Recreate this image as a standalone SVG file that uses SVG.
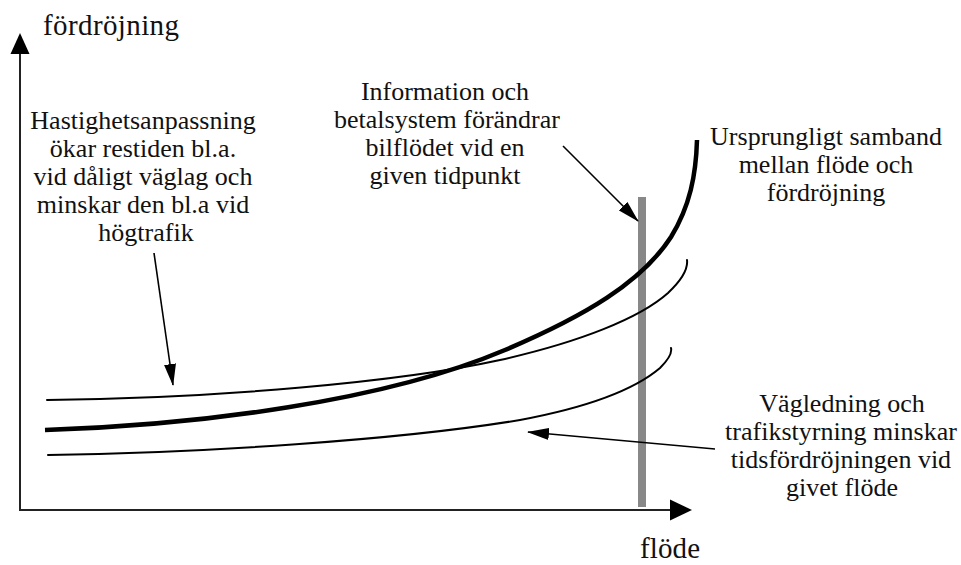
<svg xmlns="http://www.w3.org/2000/svg" width="961" height="565" viewBox="0 0 961 565">
  <defs>
    <style>
      .t { font-family: "Liberation Serif", "Times New Roman", serif; font-size: 26px; fill: #111; text-anchor: middle; }
      .ax { font-family: "Liberation Serif", "Times New Roman", serif; font-size: 29px; fill: #111; }
      .axis { stroke: #222; stroke-width: 2; fill: none; }
      .head { fill: #000; stroke: none; }
      .thin { stroke: #000; stroke-width: 2; fill: none; stroke-linecap: round; }
      .thick { stroke: #000; stroke-width: 4.5; fill: none; }
      .conn { stroke: #000; stroke-width: 1.6; fill: none; }
    </style>
    <marker id="arr" markerUnits="userSpaceOnUse" markerWidth="22" markerHeight="12" refX="21" refY="6" orient="auto">
      <path d="M0,0 L22,6 L0,12 Z" fill="#000"/>
    </marker>
  </defs>
  <rect width="961" height="565" fill="#fff"/>

  <g id="axes">
    <line class="axis" x1="20" y1="510" x2="20" y2="50"/>
    <line class="axis" x1="19" y1="510" x2="674" y2="510"/>
    <polygon class="head" points="20,33 29.5,54 10.5,54"/>
    <polygon class="head" points="692,510 670,499.5 670,520.5"/>
    <text class="ax" x="43" y="35" textLength="136" lengthAdjust="spacing">fördröjning</text>
    <text class="ax" x="640" y="558" textLength="60" lengthAdjust="spacing">flöde</text>
  </g>

  <g id="bar">
    <rect x="638" y="197" width="8" height="310" fill="#888"/>
  </g>

  <g id="curve-original">
    <path class="thick" d="M45,430 C200,425 385,401 505,350 C585,316 642,282 671,237 C690,206 696,175 697,140"/>
  </g>
  <g id="curve-speed">
    <path class="thin" d="M47,400 C220,398 400,382 500,360 C580,342 640,318 668,293 C684,278 688,268 687,260"/>
  </g>
  <g id="curve-guidance">
    <path class="thin" d="M48,455 C200,453 400,440 520,420 C600,405 640,385 660,368 C670,358 672,352 671,348"/>
  </g>

  <g id="connectors">
    <line class="conn" x1="154" y1="253" x2="173" y2="385" marker-end="url(#arr)"/>
    <line class="conn" x1="563" y1="146" x2="638" y2="221" marker-end="url(#arr)"/>
    <line class="conn" x1="715" y1="449" x2="528" y2="432" marker-end="url(#arr)"/>
  </g>

  <g id="label-speed">
    <text class="t" x="143" y="129">Hastighetsanpassning</text>
    <text class="t" x="143" y="157">ökar restiden bl.a.</text>
    <text class="t" x="143" y="185">vid dåligt väglag och</text>
    <text class="t" x="143" y="213">minskar den bl.a vid</text>
    <text class="t" x="146" y="241">högtrafik</text>
  </g>

  <g id="label-info">
    <text class="t" x="445" y="100">Information och</text>
    <text class="t" x="447" y="128">betalsystem förändrar</text>
    <text class="t" x="445" y="156">bilflödet vid en</text>
    <text class="t" x="445" y="184">given tidpunkt</text>
  </g>

  <g id="label-original">
    <text class="t" x="826" y="145">Ursprungligt samband</text>
    <text class="t" x="826" y="173">mellan flöde och</text>
    <text class="t" x="826" y="201">fördröjning</text>
  </g>

  <g id="label-guidance">
    <text class="t" x="842" y="412">Vägledning och</text>
    <text class="t" x="841" y="440">trafikstyrning minskar</text>
    <text class="t" x="841" y="468">tidsfördröjningen vid</text>
    <text class="t" x="842" y="496">givet flöde</text>
  </g>
</svg>
